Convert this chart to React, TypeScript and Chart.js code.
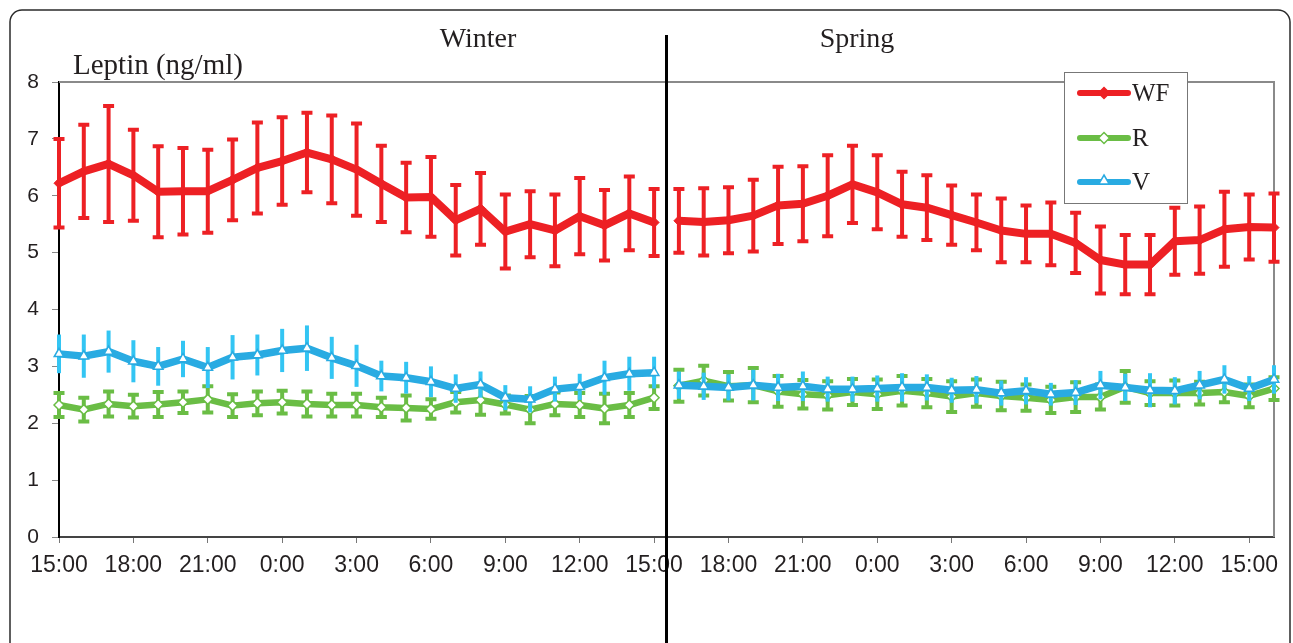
import React, { useEffect, useRef } from 'react';
import { Chart, registerables } from 'chart.js';

Chart.register(...registerables);

// ---- data ----
const winterHours = ['15:00','16:00','17:00','18:00','19:00','20:00','21:00','22:00','23:00','0:00','1:00','2:00','3:00','4:00','5:00','6:00','7:00','8:00','9:00','10:00','11:00','12:00','13:00','14:00','15:00'];
const springHours = ['16:00','17:00','18:00','19:00','20:00','21:00','22:00','23:00','0:00','1:00','2:00','3:00','4:00','5:00','6:00','7:00','8:00','9:00','10:00','11:00','12:00','13:00','14:00','15:00','16:00'];

const wfWinter = [6.22, 6.43, 6.56, 6.36, 6.07, 6.08, 6.08, 6.28, 6.49, 6.61, 6.76, 6.64, 6.46, 6.21, 5.97, 5.98, 5.57, 5.77, 5.37, 5.50, 5.39, 5.64, 5.48, 5.69, 5.53];
const wfWinterErr = [0.78, 0.82, 1.02, 0.80, 0.80, 0.76, 0.73, 0.71, 0.80, 0.77, 0.70, 0.77, 0.81, 0.67, 0.61, 0.70, 0.62, 0.63, 0.65, 0.58, 0.63, 0.67, 0.62, 0.65, 0.59];
const wfSpring = [5.56, 5.54, 5.57, 5.65, 5.83, 5.86, 6.00, 6.20, 6.06, 5.85, 5.79, 5.66, 5.53, 5.39, 5.33, 5.33, 5.17, 4.87, 4.79, 4.79, 5.20, 5.22, 5.41, 5.45, 5.44];
const wfSpringErr = [0.56, 0.59, 0.58, 0.63, 0.68, 0.66, 0.71, 0.68, 0.65, 0.57, 0.57, 0.52, 0.49, 0.56, 0.50, 0.55, 0.53, 0.59, 0.52, 0.52, 0.59, 0.59, 0.66, 0.57, 0.60];

const rWinter = [2.32, 2.24, 2.34, 2.30, 2.33, 2.37, 2.42, 2.31, 2.35, 2.37, 2.34, 2.32, 2.32, 2.28, 2.27, 2.25, 2.37, 2.41, 2.33, 2.24, 2.34, 2.32, 2.26, 2.32, 2.45];
const rWinterErr = [0.21, 0.21, 0.22, 0.20, 0.22, 0.19, 0.23, 0.20, 0.21, 0.20, 0.22, 0.20, 0.20, 0.17, 0.22, 0.17, 0.18, 0.26, 0.16, 0.24, 0.20, 0.21, 0.26, 0.21, 0.20];
const rSpring = [2.66, 2.75, 2.65, 2.67, 2.56, 2.51, 2.49, 2.55, 2.51, 2.57, 2.53, 2.47, 2.53, 2.48, 2.45, 2.41, 2.46, 2.46, 2.64, 2.53, 2.53, 2.53, 2.55, 2.48, 2.61];
const rSpringErr = [0.28, 0.26, 0.25, 0.30, 0.27, 0.25, 0.25, 0.23, 0.26, 0.26, 0.25, 0.27, 0.24, 0.25, 0.23, 0.23, 0.26, 0.22, 0.28, 0.21, 0.22, 0.20, 0.18, 0.20, 0.20];

const vWinter = [3.22, 3.18, 3.26, 3.09, 3.00, 3.13, 2.98, 3.16, 3.20, 3.28, 3.32, 3.15, 3.01, 2.83, 2.80, 2.73, 2.61, 2.68, 2.45, 2.42, 2.60, 2.64, 2.80, 2.87, 2.89];
const vWinterErr = [0.34, 0.38, 0.37, 0.37, 0.34, 0.32, 0.36, 0.39, 0.36, 0.38, 0.40, 0.37, 0.37, 0.27, 0.28, 0.27, 0.25, 0.23, 0.22, 0.23, 0.22, 0.23, 0.30, 0.30, 0.28];
const vSpring = [2.67, 2.65, 2.63, 2.67, 2.63, 2.65, 2.60, 2.60, 2.61, 2.63, 2.63, 2.58, 2.59, 2.53, 2.57, 2.51, 2.54, 2.67, 2.63, 2.58, 2.57, 2.67, 2.77, 2.61, 2.77];
const vSpringErr = [0.24, 0.24, 0.23, 0.27, 0.24, 0.26, 0.22, 0.22, 0.23, 0.25, 0.23, 0.22, 0.24, 0.22, 0.24, 0.20, 0.22, 0.25, 0.24, 0.30, 0.24, 0.25, 0.25, 0.22, 0.25];

const seasonLabels = ['Winter', 'Spring'];
const seriesNames = ['WF', 'R', 'V'];
const yAxisTitle = 'Leptin (ng/ml)';
const yTicks = [0, 1, 2, 3, 4, 5, 6, 7, 8];

// ---- styles ----
const RED = '#ED2024';
const GREEN = '#6ABD45';
const BLUE = '#29ABE2';
const BLUE_ERR = '#33C5F3';
const SERIF = "'Liberation Serif', 'Times New Roman', serif";
const SANS = "'Liberation Sans', Arial, sans-serif";

const categories = [...winterHours, ...springHours];
const breakIndex = winterHours.length - 1;

function diamond(ctx: CanvasRenderingContext2D, x: number, y: number, r: number) {
  ctx.beginPath();
  ctx.moveTo(x, y - r);
  ctx.lineTo(x + r, y);
  ctx.lineTo(x, y + r);
  ctx.lineTo(x - r, y);
  ctx.closePath();
}
function triangle(ctx: CanvasRenderingContext2D, x: number, y: number, r: number) {
  ctx.beginPath();
  ctx.moveTo(x, y - r);
  ctx.lineTo(x + r * 0.87, y + r * 0.5);
  ctx.lineTo(x - r * 0.87, y + r * 0.5);
  ctx.closePath();
}

const errorBarPlugin = {
  id: 'errorBars',
  beforeDatasetDraw(chart: any, args: any) {
    const ds = chart.data.datasets[args.index];
    if (!ds.errors) return;
    const meta = chart.getDatasetMeta(args.index);
    const ys = chart.scales.y;
    const ctx = chart.ctx as CanvasRenderingContext2D;
    ctx.save();
    ctx.strokeStyle = ds.errorColor;
    ctx.lineWidth = ds.errorWidth;
    ctx.lineCap = 'butt';
    meta.data.forEach((pt: any, i: number) => {
      const v = ds.data[i];
      const e = ds.errors[i];
      if (v == null || e == null) return;
      const yt = ys.getPixelForValue(v + e);
      const yb = ys.getPixelForValue(v - e);
      ctx.beginPath();
      ctx.moveTo(pt.x, yt);
      ctx.lineTo(pt.x, yb);
      if (ds.capWidth > 0) {
        const c = ds.capWidth / 2;
        ctx.moveTo(pt.x - c, yt);
        ctx.lineTo(pt.x + c, yt);
        ctx.moveTo(pt.x - c, yb);
        ctx.lineTo(pt.x + c, yb);
      }
      ctx.stroke();
    });
    ctx.restore();
  },
};

const decorPlugin = {
  id: 'decor',
  beforeDraw(chart: any) {
    const ctx = chart.ctx as CanvasRenderingContext2D;
    ctx.save();
    ctx.fillStyle = '#fff';
    ctx.fillRect(0, 0, chart.width, chart.height);
    ctx.strokeStyle = '#2a2a2a';
    ctx.lineWidth = 1.5;
    ctx.beginPath();
    (ctx as any).roundRect(10, 10, 1280, 720, 12);
    ctx.stroke();
    ctx.restore();
  },
  beforeDatasetsDraw(chart: any) {
    const ctx = chart.ctx as CanvasRenderingContext2D;
    const a = chart.chartArea;
    ctx.save();
    ctx.strokeStyle = '#8a8a8a';
    ctx.lineWidth = 2;
    ctx.beginPath();
    ctx.moveTo(a.left, a.top);
    ctx.lineTo(a.right, a.top);
    ctx.lineTo(a.right, a.bottom);
    ctx.stroke();
    ctx.restore();
  },
  afterDraw(chart: any) {
    const ctx = chart.ctx as CanvasRenderingContext2D;
    const xs = chart.scales.x;
    // separator
    const sx = (xs.getPixelForValue(breakIndex) + xs.getPixelForValue(breakIndex + 1)) / 2;
    ctx.save();
    ctx.strokeStyle = '#000';
    ctx.lineWidth = 3;
    ctx.beginPath();
    ctx.moveTo(sx, 35);
    ctx.lineTo(sx, chart.height);
    ctx.stroke();

    // season titles
    ctx.fillStyle = '#231f20';
    ctx.font = `28px ${SERIF}`;
    ctx.textAlign = 'center';
    ctx.textBaseline = 'alphabetic';
    ctx.fillText(seasonLabels[0], 478, 47);
    ctx.fillText(seasonLabels[1], 857, 47);

    // y axis title
    ctx.textAlign = 'left';
    ctx.font = `29px ${SERIF}`;
    ctx.fillText(yAxisTitle, 73, 74);

    // legend
    const bx = 1064, by = 72, bw = 123, bh = 131;
    ctx.fillStyle = '#fff';
    ctx.fillRect(bx, by, bw, bh);
    ctx.strokeStyle = '#777';
    ctx.lineWidth = 1;
    ctx.strokeRect(bx + 0.5, by + 0.5, bw, bh);
    const rows = [93, 138, 182];
    chart.data.datasets.forEach((ds: any, i: number) => {
      const y = rows[i];
      ctx.strokeStyle = ds.borderColor;
      ctx.lineWidth = 6;
      ctx.lineCap = 'round';
      ctx.beginPath();
      ctx.moveTo(1080, y);
      ctx.lineTo(1128, y);
      ctx.stroke();
      ctx.lineCap = 'butt';
      ctx.lineWidth = 1.5;
      if (ds.pointStyle === 'triangle') {
        triangle(ctx, 1104, y - 1, 6);
      } else {
        diamond(ctx, 1104, y, 5.5);
      }
      ctx.fillStyle = ds.pointBackgroundColor;
      ctx.fill();
      ctx.strokeStyle = ds.pointBorderColor;
      ctx.stroke();
      ctx.fillStyle = '#231f20';
      ctx.font = `25px ${SERIF}`;
      ctx.textAlign = 'left';
      ctx.textBaseline = 'middle';
      ctx.fillText(ds.label, 1132, y + 1);
    });
    ctx.restore();
  },
};

function gapSegment(color: string) {
  return {
    borderColor: (c: any) => (c.p0DataIndex === breakIndex ? 'rgba(0,0,0,0)' : color),
  };
}

export default function App() {
  const ref = useRef<HTMLCanvasElement>(null);
  useEffect(() => {
    if (!ref.current) return;
    const chart = new Chart(ref.current, {
      type: 'line',
      data: {
        labels: categories,
        datasets: [
          {
            label: seriesNames[0],
            data: [...wfWinter, ...wfSpring],
            errors: [...wfWinterErr, ...wfSpringErr],
            errorColor: RED,
            errorWidth: 4,
            capWidth: 11,
            borderColor: RED,
            borderWidth: 8,
            borderJoinStyle: 'round',
            pointStyle: 'rectRot',
            pointRadius: 5,
            pointBackgroundColor: RED,
            pointBorderColor: RED,
            pointBorderWidth: 1,
            segment: gapSegment(RED),
            order: 3,
          } as any,
          {
            label: seriesNames[1],
            data: [...rWinter, ...rSpring],
            errors: [...rWinterErr, ...rSpringErr],
            errorColor: GREEN,
            errorWidth: 4,
            capWidth: 11,
            borderColor: GREEN,
            borderWidth: 6.5,
            borderJoinStyle: 'round',
            pointStyle: 'rectRot',
            pointRadius: 5,
            pointBackgroundColor: '#fff',
            pointBorderColor: GREEN,
            pointBorderWidth: 1.5,
            segment: gapSegment(GREEN),
            order: 2,
          } as any,
          {
            label: seriesNames[2],
            data: [...vWinter, ...vSpring],
            errors: [...vWinterErr, ...vSpringErr],
            errorColor: BLUE_ERR,
            errorWidth: 4,
            capWidth: 0,
            borderColor: BLUE,
            borderWidth: 7.5,
            borderJoinStyle: 'round',
            pointStyle: 'triangle',
            pointRadius: 5.5,
            pointBackgroundColor: '#fff',
            pointBorderColor: BLUE,
            pointBorderWidth: 1.5,
            segment: gapSegment(BLUE),
            order: 1,
          } as any,
        ],
      },
      options: {
        responsive: false,
        animation: false,
        events: [],
        layout: { padding: { left: 0, top: 82, right: 19, bottom: 40 } },
        plugins: {
          legend: { display: false },
          tooltip: { enabled: false },
          title: { display: false },
        },
        scales: {
          x: {
            type: 'category',
            offset: false,
            grid: {
              drawOnChartArea: false,
              tickLength: 6,
              lineWidth: 1,
              color: (c: any) => (c.index % 3 === 0 ? '#777' : 'rgba(0,0,0,0)'),
            },
            border: { color: '#444', width: 2 },
            ticks: {
              autoSkip: false,
              maxRotation: 0,
              minRotation: 0,
              padding: 9,
              color: '#231f20',
              font: { family: SANS, size: 23 },
              callback: (_v: any, i: number) => (i % 3 === 0 ? categories[i] : ''),
            },
            afterFit: (s: any) => {
              s.height = 66;
            },
          },
          y: {
            min: yTicks[0],
            max: yTicks[yTicks.length - 1],
            afterBuildTicks: (s: any) => {
              s.ticks = yTicks.map((v) => ({ value: v }));
            },
            grid: { drawOnChartArea: false, tickLength: 7, color: '#888' },
            border: { color: '#000', width: 2 },
            ticks: {
              padding: 13,
              color: '#231f20',
              font: { family: SANS, size: 21 },
            },
            afterFit: (s: any) => {
              s.width = 59;
            },
          },
        },
      } as any,
      plugins: [errorBarPlugin, decorPlugin],
    });
    return () => chart.destroy();
  }, []);
  return (
    <div style={{ position: 'absolute', left: 0, top: 0, width: 1293, height: 643, background: '#fff' }}>
      <canvas ref={ref} width={1293} height={643} />
    </div>
  );
}
